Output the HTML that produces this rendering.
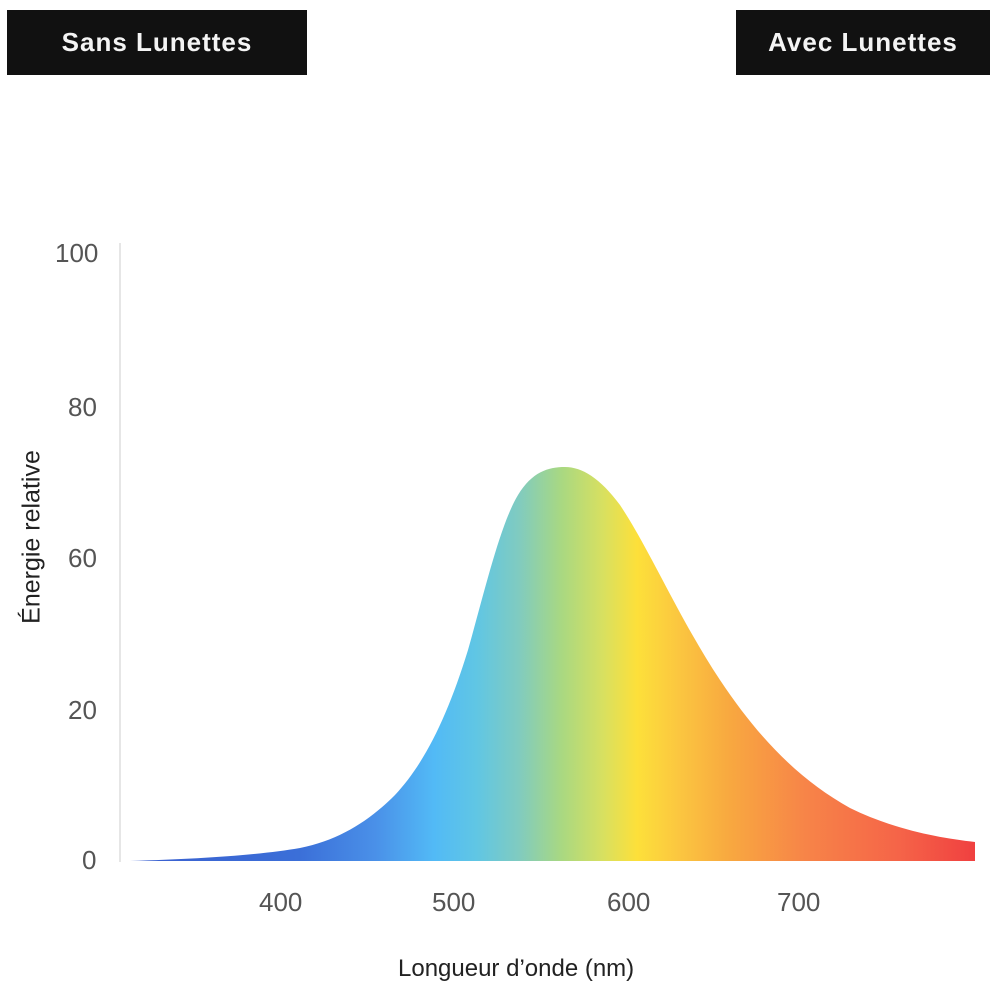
<!DOCTYPE html>
<html><head><meta charset="utf-8"><style>
body{margin:0;background:#fff;width:1000px;height:1000px;overflow:hidden;position:relative;font-family:"Liberation Sans",sans-serif}
.box{position:absolute;background:#111;color:#f4f4f4;font-weight:bold;font-size:26px;letter-spacing:1px;display:flex;align-items:center;justify-content:center}
.t{position:absolute;color:#555;font-size:26px}
</style></head><body>
<div class="box" style="left:7px;top:10px;width:300px;height:65px">Sans Lunettes</div>
<div class="box" style="left:736px;top:10px;width:254px;height:65px">Avec Lunettes</div>
<svg width="1000" height="1000" style="position:absolute;left:0;top:0">
<defs><linearGradient id="g" gradientUnits="userSpaceOnUse" x1="130" y1="0" x2="975" y2="0">
<stop offset="0" stop-color="#3a5fcf"/>
<stop offset="0.2" stop-color="#3b6fd8"/>
<stop offset="0.29" stop-color="#4a90e8"/>
<stop offset="0.36" stop-color="#52baf6"/>
<stop offset="0.41" stop-color="#60c6e4"/>
<stop offset="0.46" stop-color="#80cbc0"/>
<stop offset="0.51" stop-color="#a8d882"/>
<stop offset="0.56" stop-color="#d8e060"/>
<stop offset="0.6" stop-color="#fde03a"/>
<stop offset="0.65" stop-color="#fbc640"/>
<stop offset="0.71" stop-color="#f8a840"/>
<stop offset="0.8" stop-color="#f78448"/>
<stop offset="0.91" stop-color="#f56448"/>
<stop offset="1" stop-color="#f04040"/>
</linearGradient></defs>
<line x1="120" y1="243" x2="120" y2="862" stroke="#ddd" stroke-width="1.5"/>
<path fill="url(#g)" d="M130,861 C200,859 260,855 300,848 C340,840 370,820 395,795 C425,763 448,715 468,650 C485,590 500,525 518,495 C532,472 548,467 565,467 C582,467 600,478 620,505 C650,550 680,620 720,680 C760,740 800,780 850,808 C895,830 940,838 975,842 L975,861 Z"/>
</svg>
<div class="t" style="left:55px;top:238px">100</div>
<div class="t" style="left:68px;top:392px">80</div>
<div class="t" style="left:68px;top:543px">60</div>
<div class="t" style="left:68px;top:695px">20</div>
<div class="t" style="left:82px;top:845px">0</div>
<div class="t" style="left:259px;top:887px">400</div>
<div class="t" style="left:432px;top:887px">500</div>
<div class="t" style="left:607px;top:887px">600</div>
<div class="t" style="left:777px;top:887px">700</div>
<div style="position:absolute;left:398px;top:955px;font-size:24px;color:#222">Longueur d’onde (nm)</div>
<div style="position:absolute;left:32px;top:537px;font-size:25px;color:#222;transform:translate(-50%,-50%) rotate(-90deg);white-space:nowrap">Énergie relative</div>
</body></html>
